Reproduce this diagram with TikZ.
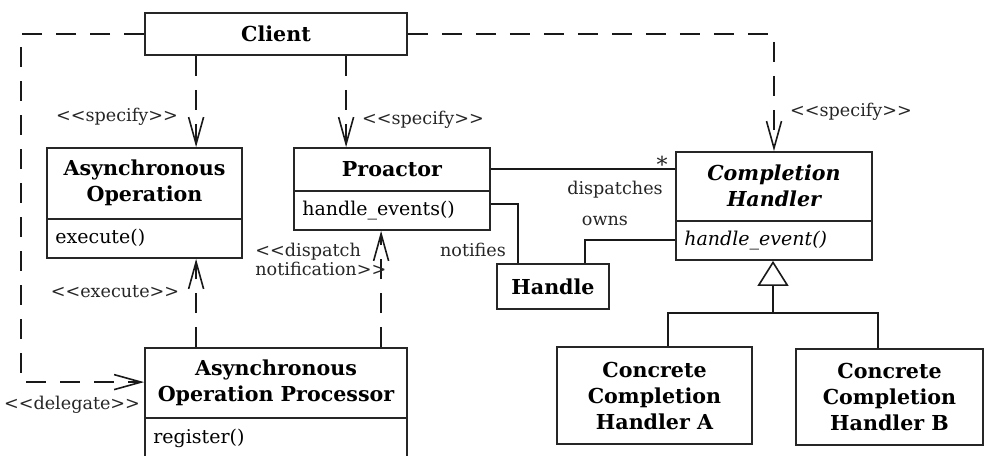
\documentclass[tikz,border=0pt]{standalone}
\usepackage{fontspec}
\newfontfamily\umlfont{DejaVu Serif}
\usetikzlibrary{arrows.meta,calc}
\begin{document}
\begin{tikzpicture}[x=0.5pt,y=-0.5pt,
  every node/.style={font=\umlfont\fontsize{9.5}{13}\selectfont, text=black, inner sep=0pt},
  box/.style={draw=black!85, line width=0.9pt, fill=white},
  title/.style={font=\umlfont\fontsize{10.3}{13}\selectfont\bfseries, align=center},
  ititle/.style={font=\umlfont\fontsize{10.3}{13}\selectfont\bfseries\itshape, align=center},
  member/.style={anchor=west},
  lbl/.style={font=\umlfont\fontsize{8.8}{9.5}\selectfont, text=black!85},
  conn/.style={draw=black!90, line width=0.8pt},
  dep/.style={conn, dash pattern=on 10pt off 7pt, -{Straight Barb[length=13.5pt,width=7.5pt,line width=0.8pt]}},
  inherit/.style={conn, -{Triangle[open,length=12.5pt,width=15.5pt,line width=0.8pt]}}
]
\useasboundingbox (0,0) rectangle (984,455);
\fill[white] (0,0) rectangle (984,455);

% class boxes
\node[box, minimum width=131pt, minimum height=21pt] (client) at (276,34) {};
\node[title] (clientt) at (client.center) {Client};

\node[box, minimum width=97.5pt, minimum height=55pt] (ao) at (144.5,203) {};
\draw[box] (ao.west |- 0,219) -- (ao.east |- 0,219);
\node[title] (aot) at (144.5,183) {Asynchronous\\Operation};
\node[member] (aom) at (55,238) {execute()};

\node[box, minimum width=98pt, minimum height=41pt] (pro) at (392,189) {};
\draw[box] (pro.west |- 0,191) -- (pro.east |- 0,191);
\node[title] (prot) at (392,169) {Proactor};
\node[member] (prom) at (302,211) {handle\_events()};

\node[box, minimum width=98pt, minimum height=54pt] (ch) at (774,206) {};
\draw[box] (ch.west |- 0,221) -- (ch.east |- 0,221);
\node[ititle] (cht) at (774,186) {Completion\\Handler};
\node[member, font=\umlfont\fontsize{9.5}{13}\selectfont\itshape] (chm) at (684,241) {handle\_event()};

\node[box, minimum width=56pt, minimum height=22.5pt] (handle) at (553,286.5) {};
\node[title] (handlet) at (handle.center) {Handle};

\node[box, minimum width=131pt, minimum height=61pt] (aop) at (276,409) {};
\draw[box] (aop.west |- 0,418) -- (aop.east |- 0,418);
\node[title] (aopt) at (276,383) {Asynchronous\\Operation Processor};
\node[member] (aopm) at (153,438) {register()};

\node[box, minimum width=97.5pt, minimum height=48.5pt] (ca) at (654.5,395.5) {};
\node[title] (cat) at (ca.center) {Concrete\\Completion\\Handler A};

\node[box, minimum width=93.5pt, minimum height=48pt] (cb) at (889.5,397) {};
\node[title] (cbt) at (cb.center) {Concrete\\Completion\\Handler B};

% dependencies from the client
\draw[dep] ([xshift=26pt]client.south west) -- ([xshift=26pt]client.south west |- ao.north);
\draw[dep] ([xshift=101pt]client.south west) -- ([xshift=101pt]client.south west |- pro.north);
\draw[dep] (client.east) -| (ch.north);
\draw[dep] (client.west) -- ++(-61.5pt,0) |- ([yshift=-17.5pt]aop.north west);

% dependencies from the processor
\draw[dep] ([xshift=26pt]aop.north west) -- ([xshift=26pt]aop.north west |- ao.south);
\draw[dep] ([xshift=118.5pt]aop.north west) -- ([xshift=118.5pt]aop.north west |- pro.south);

% associations
\draw[conn] ([yshift=-11pt]pro.north east) -- ([yshift=-11pt]pro.north east -| ch.west);
\draw[conn] ([yshift=-28.5pt]pro.north east) -| ([xshift=11pt]handle.north west);
\draw[conn] ([xshift=44.5pt]handle.north west) |- ([yshift=-44.5pt]ch.north west);

% generalisation
\coordinate (junc) at (773,313);
\draw[inherit] (junc) -- (junc |- ch.south);
\draw[conn] ([xshift=56pt]ca.north west) |- (junc) -| ([xshift=41.5pt]cb.north west);

% labels
\node[lbl] (l1) at (117,117) {<<specify>>};
\node[lbl] (l2) at (423,120) {<<specify>>};
\node[lbl] (l3) at (851,112) {<<specify>>};
\node[lbl] (l4) at (115,292) {<<execute>>};
\node[lbl, align=left, anchor=west] (l5) at (255,259) {<<dispatch\\notification>>};
\node[lbl] (l6) at (72,405) {<<delegate>>};
\node[lbl] (l7) at (473,250) {notifies};
\node[lbl] (l8) at (615,190) {dispatches};
\node[lbl] (l9) at (605,221) {owns};
\node[lbl, font=\umlfont\fontsize{11}{12}\selectfont] (l10) at (662,164) {*};
\end{tikzpicture}
\end{document}
